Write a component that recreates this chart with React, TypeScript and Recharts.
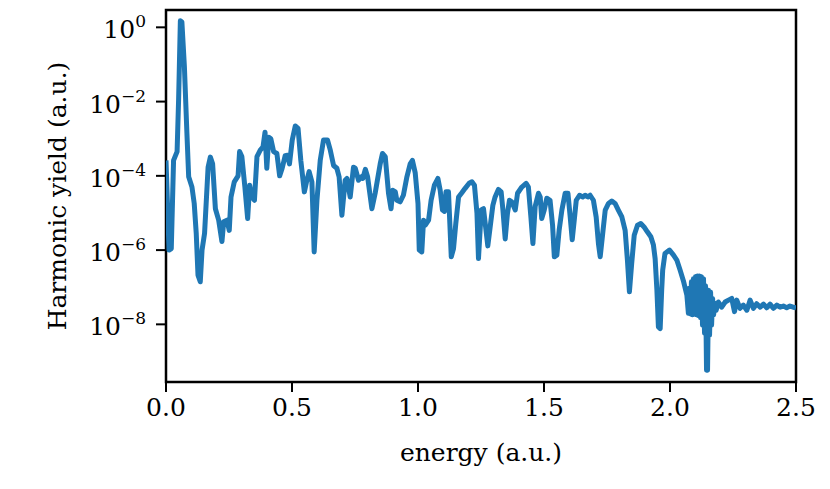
import { LineChart, Line, XAxis, YAxis, ReferenceArea } from 'recharts'

// energy axis (a.u.)
const energy = [
  0.000, 0.012, 0.021, 0.030, 0.044, 0.050, 0.057, 0.063, 0.073, 0.083,
  0.090, 0.103, 0.112, 0.120, 0.127, 0.136, 0.143, 0.153, 0.167, 0.176,
  0.185, 0.196, 0.209, 0.222, 0.229, 0.242, 0.251, 0.258, 0.271, 0.286,
  0.292, 0.301, 0.313, 0.324, 0.332, 0.341, 0.351, 0.361, 0.374, 0.385,
  0.393, 0.400, 0.408, 0.416, 0.427, 0.440, 0.451, 0.461, 0.473, 0.482,
  0.490, 0.501, 0.513, 0.524, 0.535, 0.549, 0.559, 0.568, 0.579, 0.588,
  0.599, 0.612, 0.625, 0.641, 0.652, 0.665, 0.678, 0.687, 0.698, 0.711,
  0.718, 0.731, 0.744, 0.751, 0.764, 0.775, 0.781, 0.791, 0.800, 0.817,
  0.830, 0.850, 0.859, 0.870, 0.883, 0.893, 0.900, 0.910, 0.916, 0.929,
  0.942, 0.956, 0.969, 0.978, 0.989, 1.000, 1.005, 1.015, 1.022, 1.029,
  1.042, 1.052, 1.065, 1.079, 1.088, 1.097, 1.105, 1.111, 1.121, 1.132,
  1.141, 1.150, 1.161, 1.174, 1.187, 1.203, 1.214, 1.224, 1.234, 1.240,
  1.251, 1.260, 1.277, 1.297, 1.306, 1.319, 1.330, 1.337, 1.346, 1.355,
  1.363, 1.372, 1.386, 1.395, 1.412, 1.429, 1.438, 1.448, 1.456, 1.465,
  1.478, 1.485, 1.491, 1.501, 1.511, 1.524, 1.534, 1.541, 1.551, 1.560,
  1.571, 1.584, 1.595, 1.604, 1.612, 1.620, 1.628, 1.641, 1.654, 1.663,
  1.674, 1.683, 1.696, 1.707, 1.716, 1.723, 1.733, 1.743, 1.756, 1.769,
  1.782, 1.795, 1.809, 1.822, 1.831, 1.839, 1.848, 1.858, 1.871, 1.884,
  1.897, 1.910, 1.924, 1.934, 1.941, 1.948, 1.954, 1.961, 1.967, 1.971,
  1.980, 1.998, 2.014, 2.027, 2.040, 2.053, 2.067, 2.073, 2.077, 2.081,
  2.085, 2.089, 2.093, 2.097, 2.101, 2.105, 2.109, 2.113, 2.117, 2.121,
  2.125, 2.129, 2.133, 2.137, 2.141, 2.145, 2.149, 2.153, 2.157, 2.161,
  2.165, 2.169, 2.173, 2.178, 2.183, 2.192, 2.205, 2.219, 2.232, 2.245,
  2.256, 2.265, 2.278, 2.291, 2.305, 2.318, 2.331, 2.344, 2.358, 2.371,
  2.384, 2.397, 2.410, 2.424, 2.437, 2.450, 2.463, 2.476, 2.489, 2.500,
]

// harmonic yield (a.u.), same order as energy
const harmonicYield = [
  2.6e-4, 1.0e-6, 1.1e-6, 2.6e-4, 4.5e-4, 1.1e-2, 1.5, 1.4, 8.7e-2, 1.4e-3,
  9.4e-5, 5.0e-5, 1.8e-5, 2.8e-6, 2.1e-7, 1.4e-7, 1.0e-6, 2.8e-6, 1.7e-4, 3.2e-4,
  2.1e-4, 1.3e-5, 6.4e-6, 1.7e-6, 5.8e-6, 6.4e-6, 3.4e-6, 2.7e-5, 6.9e-5, 1.0e-4,
  4.5e-4, 3.3e-4, 5.0e-5, 7.1e-6, 5.6e-5, 2.7e-5, 2.2e-5, 3.3e-4, 4.9e-4, 6.0e-4,
  1.5e-3, 1.6e-4, 1.1e-3, 1.0e-3, 4.5e-4, 4.0e-4, 1.0e-4, 1.6e-4, 3.5e-4, 3.6e-4,
  2.1e-4, 9.2e-4, 2.2e-3, 1.9e-3, 2.6e-4, 3.7e-5, 7.6e-5, 1.3e-4, 6.9e-5, 8.9e-7,
  2.2e-5, 2.6e-4, 9.2e-4, 9.2e-4, 4.9e-4, 1.9e-4, 1.6e-4, 9.4e-5, 8.7e-6, 7.6e-5,
  8.5e-5, 2.7e-5, 1.7e-4, 1.6e-4, 7.6e-5, 9.4e-5, 8.5e-5, 1.5e-4, 9.4e-5, 1.3e-5,
  3.4e-5, 2.1e-4, 4.0e-4, 3.3e-4, 3.4e-5, 1.3e-5, 4.1e-5, 3.7e-5, 2.2e-5, 2.0e-5,
  3.0e-5, 9.4e-5, 2.1e-4, 2.6e-4, 1.2e-4, 1.8e-5, 1.0e-6, 8.9e-7, 6.4e-6, 4.7e-6,
  6.4e-6, 2.2e-5, 5.6e-5, 8.5e-5, 4.1e-5, 1.2e-5, 1.1e-5, 3.7e-5, 3.7e-5, 6.6e-7,
  1.1e-6, 5.2e-6, 2.7e-5, 3.5e-5, 4.6e-5, 6.3e-5, 6.9e-5, 5.6e-5, 9.8e-6, 5.9e-7,
  1.2e-5, 1.3e-5, 1.3e-6, 1.6e-5, 2.7e-5, 4.3e-5, 3.7e-5, 1.2e-5, 2.0e-6, 9.8e-6,
  2.2e-5, 2.0e-5, 1.2e-5, 3.4e-5, 5.0e-5, 6.3e-5, 5.0e-5, 7.8e-6, 1.5e-6, 1.5e-5,
  3.4e-5, 2.7e-5, 7.1e-6, 1.2e-5, 2.5e-5, 2.2e-5, 4.7e-6, 6.6e-7, 7.3e-7, 3.4e-6,
  1.2e-5, 3.4e-5, 3.4e-5, 7.8e-6, 1.9e-6, 6.4e-6, 2.2e-5, 3.0e-5, 2.7e-5, 3.0e-5,
  2.7e-5, 3.0e-5, 2.2e-5, 7.8e-6, 1.5e-6, 6.6e-7, 2.8e-6, 1.2e-5, 1.8e-5, 2.1e-5,
  1.8e-5, 1.2e-5, 7.8e-6, 3.4e-6, 5.4e-7, 7.5e-8, 4.4e-7, 2.5e-6, 4.7e-6, 5.2e-6,
  4.2e-6, 3.1e-6, 2.3e-6, 1.4e-6, 5.9e-7, 8.3e-8, 8.5e-9, 7.7e-9, 8.3e-8, 2.9e-7,
  8.1e-7, 1.0e-6, 7.3e-7, 5.4e-7, 2.9e-7, 1.5e-7, 6.1e-8, 2.0e-8, 9.4e-8, 1.9e-8,
  1.4e-7, 1.8e-8, 1.7e-7, 1.9e-8, 1.9e-7, 1.8e-8, 2.0e-7, 1.7e-8, 2.0e-7, 1.5e-8,
  1.9e-7, 9.5e-9, 1.7e-7, 5.8e-9, 1.1e-7, 5.8e-10, 5.8e-10, 8.3e-8, 5.1e-9, 7.4e-8,
  9.5e-9, 5.0e-8, 1.8e-8, 3.7e-8, 2.4e-8, 4.0e-8, 2.9e-8, 4.0e-8, 4.5e-8, 5.0e-8,
  2.2e-8, 4.5e-8, 2.7e-8, 3.3e-8, 2.4e-8, 4.5e-8, 2.7e-8, 3.6e-8, 2.9e-8, 3.5e-8,
  2.8e-8, 3.5e-8, 2.7e-8, 3.3e-8, 2.9e-8, 3.1e-8, 2.8e-8, 3.1e-8, 2.9e-8, 2.8e-8,
]

const xTicks = [0, 0.5, 1.0, 1.5, 2.0, 2.5]
const yTicks = [1, 1e-2, 1e-4, 1e-6, 1e-8]
const yTickExponents = ['0', '−2', '−4', '−6', '−8']

const X_DOMAIN: [number, number] = [0, 2.5]
const Y_DOMAIN: [number, number] = [2.8e-10, 2.93]

const FONT = '"DejaVu Serif", serif'
const LINE_COLOR = '#1f77b4'

const data = energy.map((e, i) => ({ energy: e, yield: harmonicYield[i] }))

function LogTick(props: any) {
  const { x, y, payload } = props
  const idx = yTicks.findIndex((t) => Math.abs(Math.log10(t) - Math.log10(payload.value)) < 1e-6)
  const exp = idx >= 0 ? yTickExponents[idx] : ''
  return (
    <text x={x} y={y + 11} textAnchor="end" fontFamily={FONT} fontSize={25} fill="#000">
      <tspan>10</tspan>
      <tspan dy={-11} fontSize={17}>{exp}</tspan>
    </text>
  )
}

function YLabel(props: any) {
  const vb = props.viewBox
  const cx = vb.x + 57
  const cy = vb.y + vb.height / 2
  return (
    <text
      transform={`translate(${cx}, ${cy}) rotate(-90)`}
      textAnchor="middle"
      dominantBaseline="central"
      fontFamily={FONT}
      fontSize={25}
      fill="#000"
    >
      Harmonic yield (a.u.)
    </text>
  )
}

function XLabel(props: any) {
  const vb = props.viewBox
  return (
    <text
      x={vb.x + vb.width / 2}
      y={vb.y + 79}
      textAnchor="middle"
      fontFamily={FONT}
      fontSize={25}
      fill="#000"
    >
      energy (a.u.)
    </text>
  )
}

export default function App() {
  return (
    <div style={{ position: 'absolute', left: 0, top: 0, width: 830, height: 489, background: '#fff' }}>
      <LineChart width={830} height={489} data={data} margin={{ top: 10, right: 34, bottom: 0, left: 0 }}>
        <XAxis
          dataKey="energy"
          type="number"
          domain={X_DOMAIN}
          ticks={xTicks}
          tickFormatter={(v: number) => v.toFixed(1)}
          height={107}
          tickSize={10}
          tickMargin={6}
          axisLine={false}
          tickLine={{ stroke: '#000', strokeWidth: 2 }}
          tick={{ fill: '#000', fontFamily: FONT, fontSize: 25 }}
          allowDataOverflow
          label={XLabel}
        />
        <YAxis
          dataKey="yield"
          scale="log"
          type="number"
          domain={Y_DOMAIN}
          ticks={yTicks}
          width={166}
          tickSize={10}
          tickMargin={10}
          axisLine={false}
          tickLine={{ stroke: '#000', strokeWidth: 2 }}
          tick={<LogTick />}
          allowDataOverflow
          label={YLabel}
        />
        <Line
          type="linear"
          dataKey="yield"
          stroke={LINE_COLOR}
          strokeWidth={5}
          strokeLinejoin="round"
          dot={false}
          isAnimationActive={false}
        />
        <ReferenceArea
          x1={X_DOMAIN[0]}
          x2={X_DOMAIN[1]}
          y1={Y_DOMAIN[0]}
          y2={Y_DOMAIN[1]}
          fill="none"
          fillOpacity={0}
          stroke="#000"
          strokeWidth={2.5}
          ifOverflow="visible"
        />
      </LineChart>
    </div>
  )
}
